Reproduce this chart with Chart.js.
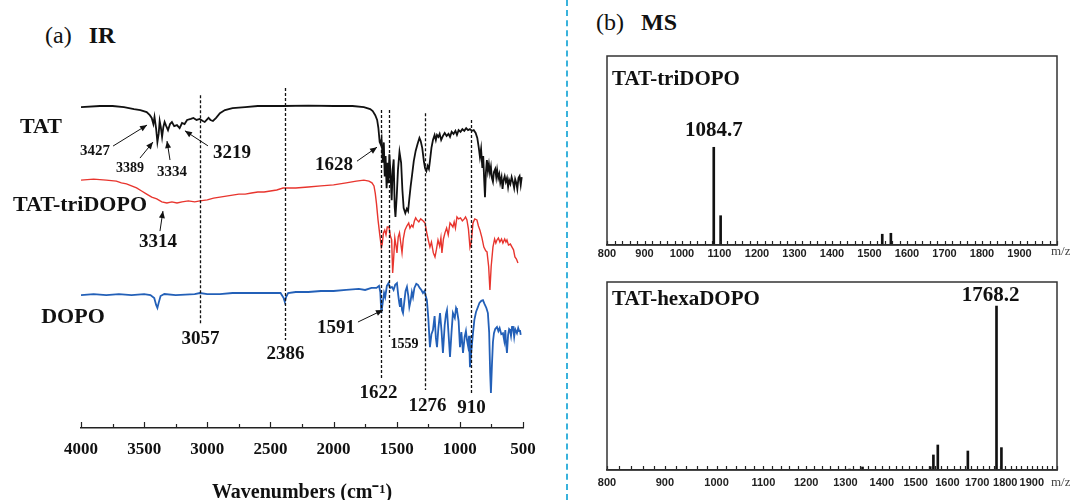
<!DOCTYPE html>
<html><head><meta charset="utf-8">
<script src="https://cdn.jsdelivr.net/npm/chart.js@4.4.1/dist/chart.umd.min.js"></script>
<style>
html,body{margin:0;padding:0;background:#fff;}
#wrap{position:relative;width:1070px;height:500px;overflow:hidden;font-family:"Liberation Serif","Times New Roman",serif;}
canvas{position:absolute;}
#ir{left:0;top:0;}
#ms1{left:580px;top:40px;}
#ms2{left:580px;top:270px;}
.hdr{position:absolute;font-size:24px;color:#111;white-space:nowrap;line-height:26px;}
.hdr b{margin-left:17px;}
#divider{position:absolute;left:566px;top:0;height:500px;border-left:2px dashed #38b2dc;}
</style></head>
<body><div id="wrap">
<div class="hdr" style="left:45px;top:22px;">(a)<b>IR</b></div>
<div class="hdr" style="left:596px;top:9px;">(b)<b>MS</b></div>
<div id="divider"></div>
<canvas id="ir" width="560" height="500"></canvas>
<canvas id="ms1" width="490" height="230"></canvas>
<canvas id="ms2" width="490" height="230"></canvas>
</div>
<script>
const SERIF = '"Liberation Serif","Times New Roman",serif';
const SANS = '"Liberation Sans Narrow","Liberation Sans",Arial,sans-serif';

// ---------- IR data: [wavenumber (cm-1), offset transmittance (a.u.)] ----------
const tatData = [[4000,94.4],[3850,94.7],[3750,94.7],[3660,94.4],[3580,93.8],[3530,93.5],[3480,92.9],[3455,92.0],[3440,91.2],[3427,89.4],[3418,91.5],[3405,88.0],[3395,84.1],[3385,86.5],[3377,90.3],[3368,88.5],[3358,85.6],[3348,88.5],[3338,90.0],[3325,88.8],[3311,87.6],[3295,89.4],[3280,90.0],[3262,88.8],[3240,89.1],[3219,88.2],[3200,89.7],[3180,89.4],[3160,90.6],[3130,90.9],[3110,91.2],[3085,90.6],[3060,90.9],[3035,90.3],[3020,90.0],[3005,90.6],[2990,91.2],[2975,90.6],[2955,90.3],[2930,91.2],[2900,92.6],[2860,93.5],[2800,94.1],[2700,94.4],[2600,94.7],[2400,94.7],[2200,94.8],[2000,94.7],[1850,94.7],[1760,94.4],[1710,93.8],[1690,93.2],[1670,92.0],[1655,90.6],[1645,88.2],[1635,84.1],[1628,83.5],[1620,85.0],[1610,78.0],[1602,84.0],[1595,74.0],[1588,80.0],[1580,70.5],[1572,78.0],[1565,72.0],[1558,80.5],[1548,74.0],[1540,67.0],[1532,76.0],[1524,79.0],[1516,65.0],[1510,62.1],[1500,68.0],[1490,76.0],[1478,81.2],[1465,78.0],[1455,70.0],[1445,64.7],[1432,63.2],[1420,64.5],[1410,63.8],[1400,67.5],[1390,71.0],[1378,74.5],[1365,78.5],[1350,81.5],[1335,83.5],[1320,85.3],[1310,84.4],[1298,82.4],[1285,78.5],[1276,76.5],[1265,75.6],[1255,77.1],[1245,76.2],[1237,78.5],[1225,82.4],[1213,84.7],[1200,86.2],[1190,84.7],[1181,86.2],[1170,85.6],[1160,86.5],[1148,84.7],[1134,85.9],[1120,86.8],[1105,85.9],[1090,86.5],[1078,85.6],[1065,87.1],[1050,86.5],[1035,87.4],[1023,86.2],[1010,87.6],[995,87.1],[980,87.9],[965,87.4],[950,88.2],[935,87.6],[920,87.9],[905,87.4],[890,87.6],[875,86.8],[862,85.3],[850,82.4],[841,79.7],[832,82.1],[822,76.5],[815,80.0],[808,73.5],[801,67.9],[794,75.0],[786,78.8],[778,75.6],[770,77.6],[762,75.0],[754,76.8],[746,73.5],[738,72.4],[730,75.3],[720,76.2],[712,73.8],[705,75.9],[696,73.5],[688,74.7],[680,72.1],[670,73.8],[662,70.3],[654,72.9],[645,74.1],[636,72.4],[627,73.5],[618,70.9],[610,72.9],[600,71.8],[590,73.8],[580,72.4],[570,70.6],[562,73.2],[553,72.1],[545,70.3],[536,73.5],[527,74.1],[518,71.5],[510,73.8]];

const triDopoData = [[4000,72.9],[3900,73.2],[3800,72.9],[3720,72.6],[3680,72.1],[3640,71.8],[3600,71.2],[3560,70.6],[3520,69.7],[3480,68.8],[3440,67.9],[3400,67.4],[3360,66.5],[3320,66.2],[3280,66.5],[3240,66.2],[3200,66.5],[3150,66.8],[3100,66.5],[3058,66.8],[3000,67.1],[2950,67.6],[2900,67.9],[2850,68.2],[2800,68.5],[2750,68.8],[2700,68.8],[2650,69.1],[2600,69.4],[2550,69.4],[2500,69.7],[2450,70.0],[2400,70.6],[2300,70.6],[2200,70.9],[2100,71.2],[2000,71.5],[1900,72.1],[1820,72.6],[1760,72.9],[1720,72.6],[1696,72.1],[1680,71.2],[1670,69.1],[1660,65.9],[1648,61.2],[1635,57.1],[1622,53.2],[1615,54.1],[1605,57.4],[1595,58.2],[1585,56.8],[1575,59.1],[1561,59.1],[1550,56.5],[1540,55.3],[1532,45.6],[1524,50.0],[1515,55.9],[1505,53.5],[1498,51.5],[1488,56.2],[1478,57.4],[1470,55.0],[1458,51.5],[1448,55.6],[1435,58.2],[1420,59.4],[1405,60.3],[1395,58.8],[1382,59.7],[1371,59.1],[1360,60.9],[1350,61.8],[1340,61.2],[1325,60.6],[1310,61.5],[1290,60.9],[1276,60.3],[1262,57.4],[1250,55.3],[1237,53.2],[1225,54.7],[1210,51.5],[1197,50.3],[1185,52.6],[1173,55.3],[1160,53.5],[1150,55.9],[1142,51.5],[1130,55.6],[1118,57.4],[1105,58.8],[1092,56.8],[1078,60.3],[1065,59.7],[1055,59.1],[1045,60.6],[1035,58.8],[1023,62.1],[1010,61.5],[995,61.8],[980,60.9],[965,61.5],[955,62.1],[944,61.2],[932,58.5],[920,53.2],[910,54.7],[896,60.3],[882,61.5],[865,61.2],[853,59.4],[841,58.2],[825,55.9],[810,53.2],[795,52.1],[785,51.8],[772,47.5],[762,40.6],[752,47.5],[738,53.2],[725,55.6],[715,54.4],[706,55.3],[695,55.9],[683,54.7],[670,55.6],[659,54.4],[645,55.6],[635,54.7],[627,55.3],[615,53.8],[600,54.1],[587,53.2],[575,52.4],[564,50.3],[552,49.7],[540,48.5]];

const dopoData = [[4000,39.1],[3900,39.4],[3800,39.1],[3700,39.4],[3600,39.1],[3500,39.4],[3450,39.1],[3420,38.2],[3405,36.2],[3395,35.3],[3385,36.8],[3370,38.8],[3340,39.4],[3250,39.1],[3100,39.4],[3058,39.7],[3000,39.4],[2900,39.4],[2800,39.7],[2700,39.7],[2600,39.7],[2500,39.7],[2420,39.7],[2395,38.2],[2386,37.1],[2376,38.5],[2360,39.7],[2300,40.0],[2200,40.0],[2100,40.3],[2000,40.3],[1900,40.6],[1800,40.9],[1750,40.6],[1700,41.2],[1660,41.2],[1640,41.8],[1630,40.0],[1622,33.8],[1612,36.5],[1600,39.7],[1591,38.5],[1578,41.8],[1565,42.6],[1552,41.2],[1538,41.5],[1525,40.6],[1512,42.1],[1498,42.6],[1488,39.1],[1480,36.8],[1474,35.6],[1466,38.2],[1458,34.7],[1450,33.8],[1440,37.1],[1430,40.3],[1419,41.5],[1408,38.8],[1400,35.6],[1390,37.4],[1380,40.0],[1371,38.5],[1360,41.2],[1345,42.4],[1332,42.1],[1318,41.2],[1305,40.6],[1292,39.7],[1280,40.3],[1270,38.8],[1261,37.6],[1250,32.4],[1237,23.8],[1225,27.6],[1213,28.8],[1200,32.9],[1190,26.5],[1181,23.8],[1170,29.4],[1157,33.8],[1145,28.5],[1134,22.1],[1120,30.3],[1110,33.5],[1102,34.7],[1090,27.9],[1078,20.9],[1066,28.2],[1055,33.8],[1040,32.4],[1030,35.3],[1023,34.7],[1010,31.5],[999,23.8],[988,28.2],[975,22.1],[962,26.8],[952,28.5],[944,25.9],[935,24.1],[927,27.1],[920,17.9],[910,22.4],[896,27.9],[885,31.8],[872,34.1],[857,35.6],[845,36.8],[830,37.4],[817,37.6],[805,36.5],[790,35.3],[778,33.8],[768,28.2],[760,16.2],[754,10.3],[746,18.5],[738,25.3],[730,27.9],[720,29.1],[706,29.7],[695,28.5],[685,29.4],[672,27.6],[659,27.9],[648,25.6],[640,28.8],[634,24.7],[627,22.1],[618,27.4],[610,29.1],[603,28.8],[595,27.1],[587,29.7],[579,29.7],[570,26.8],[562,29.1],[548,27.9],[538,29.4],[530,28.5],[524,28.8],[518,27.4]];

const irSeriesNames = ['TAT', 'TAT-triDOPO', 'DOPO'];
const irMarkedBands = [3057, 2386, 1622, 1559, 1276, 910];        // dashed guide lines
const irArrowBands = [['3427',3477,89.1],['3389',3430,84.1],['3334',3319,84.4],['3219',3177,87.4],['1628',1656,82.6],['3314',3351,63.8],['1591',1609,34.7]];

// ---------- MS data ----------
const triMz = [1084.7, 1103, 1534, 1557];
const triIntensity = [51.7, 15.5, 5.7, 6.2];
const hexaMz = [1311, 1346, 1545, 1555, 1569, 1668, 1768.2, 1786];
const hexaIntensity = [0.5, 1.6, 1.8, 8.0, 13.3, 10.1, 87.2, 11.9];
const msRange = [800, 2000];

// ---------- helpers ----------
function arrow(ctx, x1, y1, x2, y2) {
  ctx.beginPath(); ctx.moveTo(x1, y1); ctx.lineTo(x2, y2); ctx.stroke();
  const a = Math.atan2(y2 - y1, x2 - x1), L = 7, W = 3;
  ctx.beginPath();
  ctx.moveTo(x2, y2);
  ctx.lineTo(x2 - L*Math.cos(a) + W*Math.sin(a), y2 - L*Math.sin(a) - W*Math.cos(a));
  ctx.lineTo(x2 - L*Math.cos(a) - W*Math.sin(a), y2 - L*Math.sin(a) + W*Math.cos(a));
  ctx.closePath(); ctx.fill();
}
function inwardTicks(chart, isMajor, majLen, minLen) {
  const s = chart.scales.x, ctx = chart.ctx, b = chart.chartArea.bottom;
  ctx.save(); ctx.strokeStyle = '#222'; ctx.lineWidth = 1.2;
  s.ticks.forEach(t => {
    const x = Math.round(s.getPixelForValue(t.value)) + 0.5;
    const len = isMajor(t.value) ? majLen : minLen;
    ctx.beginPath(); ctx.moveTo(x, b); ctx.lineTo(x, b - len); ctx.stroke();
  });
  ctx.restore();
}

// ---------- IR chart ----------
const guideStyle = {3057:[97.9,30.3,14,'19'],2386:[100,25.9,14,'19'],1622:[93.5,14.7,15,'19'],1559:[93.5,26.8,8,'14'],1276:[92.6,11.2,16,'19'],910:[90.6,9.7,13,'19']};
const guideDx = {3057:0,2386:0,1622:-3,1559:15,1276:2,910:0};
const arrowStyle = {
  '3427':{lx:-52,ly:26,tx:-34,ty:21,fs:15},
  '3389':{lx:-23,ly:26,tx:-13,ty:16,fs:14},
  '3334':{lx:5,ly:31,tx:3,ty:19,fs:15},
  '3219':{lx:47,ly:22,tx:23,ty:15,fs:19},
  '1628':{lx:-43,ly:18,tx:-20,ty:14,fs:19},
  '3314':{lx:-5,ly:31,tx:-3,ty:20,fs:19},
  '1591':{lx:-47,ly:18,tx:-25,ty:12,fs:19}
};
const seriesLabelPos = [[41,127],[80,205],[73,317]];

const irPlugin = {
  id: 'irDecor',
  afterDraw(chart) {
    const ctx = chart.ctx, xs = chart.scales.x, ys = chart.scales.y;
    inwardTicks(chart, v => v % 500 === 0, 6, 4);
    ctx.save();
    ctx.fillStyle = '#111'; ctx.strokeStyle = '#111';
    ctx.textAlign = 'center'; ctx.textBaseline = 'middle';
    irMarkedBands.forEach(w => {
      const [vt, vb, lo, fs] = guideStyle[w];
      const x = Math.round(xs.getPixelForValue(w)) + 0.5;
      const y1 = ys.getPixelForValue(vt), y2 = ys.getPixelForValue(vb);
      ctx.setLineDash([3, 2]); ctx.lineWidth = 1.3;
      ctx.beginPath(); ctx.moveTo(x, y1); ctx.lineTo(x, y2); ctx.stroke();
      ctx.setLineDash([]);
      ctx.font = 'bold ' + fs + 'px ' + SERIF;
      ctx.fillText(String(w), x + guideDx[w], y2 + lo);
    });
    ctx.lineWidth = 1;
    irArrowBands.forEach(([txt, w, v]) => {
      const st = arrowStyle[txt];
      const px = xs.getPixelForValue(w), py = ys.getPixelForValue(v);
      arrow(ctx, px + st.tx, py + st.ty, px, py);
      ctx.font = 'bold ' + st.fs + 'px ' + SERIF;
      ctx.fillText(txt, px + st.lx, py + st.ly);
    });
    ctx.font = 'bold 22px ' + SERIF;
    irSeriesNames.forEach((n, i) => ctx.fillText(n, seriesLabelPos[i][0], seriesLabelPos[i][1]));
    ctx.restore();
  }
};

new Chart(document.getElementById('ir'), {
  type: 'line',
  data: { datasets: [
    { label: irSeriesNames[0], data: tatData, borderColor: '#111', borderWidth: 1.8 },
    { label: irSeriesNames[1], data: triDopoData, borderColor: '#e8352e', borderWidth: 1.4 },
    { label: irSeriesNames[2], data: dopoData, borderColor: '#2360b8', borderWidth: 1.8 }
  ]},
  options: {
    responsive: false, animation: false,
    elements: { point: { radius: 0 }, line: { tension: 0 } },
    layout: { padding: { left: 81, right: 37, top: 88, bottom: 0 } },
    plugins: { legend: { display: false }, tooltip: { enabled: false } },
    scales: {
      x: {
        type: 'linear', reverse: true, min: 500, max: 4000,
        afterBuildTicks(s) { const t = []; for (let v = 500; v <= 4000; v += 250) t.push({ value: v }); s.ticks = t; },
        ticks: { autoSkip: false, maxRotation: 0, minRotation: 0, padding: 11, color: '#111',
                 font: { family: SERIF, size: 17, weight: 'bold' },
                 callback: v => (v % 500 === 0 ? String(v) : '') },
        grid: { display: false, drawTicks: false },
        border: { display: true, color: '#222', width: 1.5 },
        title: { display: true, text: 'Wavenumbers (cm⁻¹)', color: '#111',
                 font: { family: SERIF, size: 20, weight: 'bold' }, padding: { top: 0, bottom: -5 } },
        afterFit(s) { s.height = 72; }
      },
      y: { display: false, min: 0, max: 100 }
    }
  },
  plugins: [irPlugin]
});

// ---------- MS charts ----------
function msChart(id, mz, inten, scaleType, title, labelIdx, cfg) {
  const plugin = {
    id: 'msDecor' + id,
    afterDraw(chart) {
      const ctx = chart.ctx, a = chart.chartArea;
      inwardTicks(chart, v => v % 100 === 0, 4, 4);
      ctx.save();
      ctx.strokeStyle = '#333'; ctx.lineWidth = 1.5;
      ctx.strokeRect(a.left, a.top, a.right - a.left, a.bottom - a.top);
      ctx.fillStyle = '#111';
      ctx.textBaseline = 'middle'; ctx.textAlign = 'left';
      ctx.font = 'bold 21px ' + SERIF;
      ctx.fillText(title, a.left + 5, a.top + cfg.titleDy);
      ctx.font = '13px ' + SERIF; ctx.fillStyle = '#444';
      ctx.fillText('m/z', a.right - 6, a.bottom + cfg.mzDy);
      const el = chart.getDatasetMeta(0).data[labelIdx];
      ctx.fillStyle = '#111'; ctx.textAlign = 'center';
      ctx.font = 'bold 21px ' + SERIF;
      ctx.fillText(String(mz[labelIdx]), el.x + cfg.lblDx, el.y - cfg.lblDy);
      ctx.restore();
    }
  };
  return new Chart(document.getElementById(id), {
    type: 'bar',
    data: { datasets: [{ data: mz.map((m, i) => ({ x: m, y: inten[i] })), backgroundColor: '#111', barThickness: 2, borderWidth: 0 }] },
    options: {
      responsive: false, animation: false,
      layout: { padding: { left: 27, right: 13, top: cfg.top, bottom: 0 } },
      plugins: { legend: { display: false }, tooltip: { enabled: false } },
      scales: {
        x: {
          type: scaleType, min: msRange[0], max: msRange[1], offset: false,
          afterBuildTicks(s) { const t = []; for (let v = msRange[0]; v <= msRange[1]; v += 20) t.push({ value: v }); s.ticks = t; },
          ticks: { autoSkip: false, maxRotation: 0, minRotation: 0, padding: cfg.tickPad, color: '#222',
                   font: { family: SANS, size: 11, weight: 'bold' },
                   callback: v => (v % 100 === 0 && v < msRange[1] ? String(v) : '') },
          grid: { display: false, drawTicks: false, offset: false },
          border: { display: true, color: '#222', width: 1.5 },
          afterFit(s) { s.height = cfg.axisH; }
        },
        y: { display: false, min: 0, max: 100 }
      }
    },
    plugins: [plugin]
  });
}
msChart('ms1', triMz, triIntensity, 'linear', 'TAT-triDOPO', 0,
        { top: 16, axisH: 25, tickPad: 2, titleDy: 24, mzDy: 7, lblDx: 0, lblDy: 17 });
msChart('ms2', hexaMz, hexaIntensity, 'logarithmic', 'TAT-hexaDOPO', 6,
        { top: 12, axisH: 30, tickPad: 6, titleDy: 18, mzDy: 13, lblDx: -6, lblDy: 10 });
</script>
</body></html>
